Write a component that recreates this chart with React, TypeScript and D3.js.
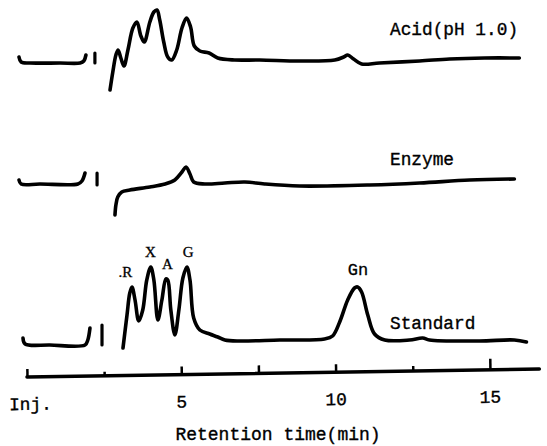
import { useEffect, useRef } from "react"
import * as d3 from "d3"

// time in min, response in arbitrary units above each trace's floor
const acidPre: [number, number][] = [
  [-0.26, 33], [-0.19, 28], [0.1, 27], [1.07, 27], [1.72, 27], [1.84, 29], [1.91, 35],
]
const acidBreak: [number, number][] = [[2.2, 37], [2.2, 27]]
const acidMain: [number, number][] = [
  [2.69, 0], [2.78, 18], [2.88, 35], [2.95, 40], [3.04, 32], [3.14, 24], [3.27, 40],
  [3.43, 62], [3.56, 68], [3.69, 54], [3.8, 48], [3.98, 68], [4.11, 78], [4.21, 80],
  [4.3, 70], [4.43, 48], [4.56, 33], [4.69, 30], [4.85, 40], [5.02, 62], [5.17, 72],
  [5.3, 63], [5.42, 44], [5.6, 39], [5.9, 37], [6.18, 32], [6.73, 30], [7.54, 30],
  [8.83, 29], [9.97, 30], [10.26, 33], [10.39, 35], [10.58, 31], [10.84, 26],
  [11.42, 27], [12.72, 29], [13.69, 31], [14.82, 32], [15.95, 32],
]

const enzymePre: [number, number][] = [
  [-0.26, 35], [-0.19, 31], [0.42, 31], [1.65, 31], [1.78, 34], [1.88, 42],
]
const enzymeBreak: [number, number][] = [[2.27, 42], [2.27, 30]]
const enzymeMain: [number, number][] = [
  [2.85, 0], [2.88, 10], [2.94, 18], [3.07, 23], [3.33, 25], [3.98, 28], [4.47, 31],
  [4.79, 35], [5.02, 43], [5.15, 48], [5.28, 41], [5.4, 33], [5.76, 31], [6.41, 32],
  [7.06, 33], [7.7, 31], [8.83, 29], [11.1, 30], [12.72, 32], [14.34, 35], [15.79, 36],
]

const standardPre: [number, number][] = [
  [-0.13, 10], [-0.06, 4], [0.74, 3], [1.88, 3], [1.97, 8], [2.04, 20],
]
const standardBreak: [number, number][] = [[2.43, 23], [2.43, 3]]
const standardMain: [number, number][] = [
  [3.11, 0], [3.24, 33], [3.33, 55], [3.4, 61], [3.5, 48], [3.62, 27], [3.75, 38],
  [3.88, 68], [4.01, 81], [4.11, 68], [4.24, 28], [4.37, 48], [4.5, 69], [4.56, 68],
  [4.66, 38], [4.79, 13], [4.92, 38], [5.05, 70], [5.18, 81], [5.28, 68], [5.4, 30],
  [5.6, 18], [5.92, 14], [6.18, 11], [6.41, 8], [6.89, 7], [8.19, 8], [9.64, 9],
  [9.9, 12], [10.13, 26], [10.39, 48], [10.61, 60], [10.71, 61], [10.84, 56],
  [11.04, 33], [11.26, 14], [11.59, 8], [12.39, 8], [12.82, 10], [13.04, 8],
  [14.66, 7], [15.79, 8], [16.18, 6],
]

const peakNames = [".R", "X", "A", "G", "Gn"]
const peakTimes = [3.35, 4.0, 4.55, 5.22, 10.72]
const peakHeights = [61, 81, 69, 81, 61]

const traceNames = ["Acid(pH 1.0)", "Enzyme", "Standard"]
const tickValues = [0, 2.5, 5, 7.5, 10, 12.5, 15]
const tickLabels = ["Inj.", "", "5", "", "10", "", "15"]

const mono = "Liberation Mono, DejaVu Sans Mono, monospace"

export default function App() {
  const ref = useRef<SVGSVGElement>(null)

  useEffect(() => {
    const width = 547, height = 446
    const svg = d3.select(ref.current)
    svg.selectAll("*").remove()

    const x = d3.scaleLinear().domain([0, 15]).range([27, 490])

    // one vertical band per trace; response 0 sits at the band floor
    const floors = [90, 215, 348]
    const yScales = floors.map((f) => d3.scaleLinear().domain([0, 100]).range([f, f - 100]))

    const traces = [
      { pre: acidPre, brk: acidBreak, main: acidMain },
      { pre: enzymePre, brk: enzymeBreak, main: enzymeMain },
      { pre: standardPre, brk: standardBreak, main: standardMain },
    ]

    traces.forEach((tr, i) => {
      const y = yScales[i]
      const line = d3.line<[number, number]>()
        .x((d) => x(d[0]))
        .y((d) => y(d[1]))
        .curve(d3.curveCatmullRom.alpha(0.5))
      const straight = d3.line<[number, number]>()
        .x((d) => x(d[0]))
        .y((d) => y(d[1]))

      const g = svg.append("g")
        .attr("fill", "none")
        .attr("stroke", "#000")
        .attr("stroke-width", 3.6)
        .attr("stroke-linecap", "round")
        .attr("stroke-linejoin", "round")

      g.append("path").attr("d", line(tr.pre))
      g.append("path").attr("d", straight(tr.brk)).attr("stroke-width", 3.2)
      g.append("path").attr("d", line(tr.main))
    })

    const labelY = [35, 165, 329]
    traceNames.forEach((name, i) => {
      svg.append("text")
        .attr("x", 390)
        .attr("y", labelY[i])
        .attr("font-family", mono)
        .attr("font-size", 17.8)
        .attr("fill", "#000")
        .attr("stroke", "#000")
        .attr("stroke-width", 0.35)
        .text(name)
    })

    peakNames.forEach((name, i) => {
      svg.append("text")
        .attr("x", x(peakTimes[i]) + (i === 0 ? -5 : 0))
        .attr("y", yScales[2](peakHeights[i]) - (i === 4 ? 12 : 10))
        .attr("text-anchor", "middle")
        .attr("font-family", i === 4 ? mono : "Liberation Serif, serif")
        .attr("font-size", i === 4 ? 17 : 15)
        .attr("fill", "#000")
        .attr("stroke", "#000")
        .attr("stroke-width", 0.3)
        .text(name)
    })

    // time axis, slightly tilted like the scanned trace
    const axisY = 377
    const axisG = svg.append("g")
      .attr("transform", `rotate(-0.9, ${x(0)}, ${axisY})`)

    const axis = d3.axisTop(x)
      .tickValues(tickValues)
      .tickSize(8)
      .tickSizeOuter(0)
      .tickFormat(() => "")

    const ax = axisG.append("g")
      .attr("transform", `translate(0, ${axisY})`)
      .call(axis)
    ax.select(".domain")
      .attr("d", `M${x(0)},0H${x(16.6)}`)
      .attr("stroke-width", 3.5)
      .attr("stroke-linecap", "round")
    ax.selectAll(".tick line")
      .attr("stroke-width", 2.5)
      .attr("y2", (_d, i) => (i === 1 ? -4 : i === 5 ? -5 : i === 6 ? -11 : -8))

    axisG.selectAll(".tick-label")
      .data(tickValues)
      .join("text")
      .attr("class", "tick-label")
      .attr("x", (d) => x(d) + (d === 0 ? 3 : 0))
      .attr("y", axisY + 33)
      .attr("text-anchor", "middle")
      .attr("font-family", mono)
      .attr("font-size", 17.8)
      .attr("fill", "#000")
      .attr("stroke", "#000")
      .attr("stroke-width", 0.35)
      .text((_d, i) => tickLabels[i])

    svg.append("text")
      .attr("x", 278)
      .attr("y", 440)
      .attr("text-anchor", "middle")
      .attr("font-family", mono)
      .attr("font-size", 18)
      .attr("fill", "#000")
      .attr("stroke", "#000")
      .attr("stroke-width", 0.35)
      .text("Retention time(min)")

    svg.attr("width", width).attr("height", height)
  }, [])

  return (
    <svg
      ref={ref}
      width={547}
      height={446}
      style={{ position: "absolute", left: 0, top: 0, background: "#fff" }}
    />
  )
}
